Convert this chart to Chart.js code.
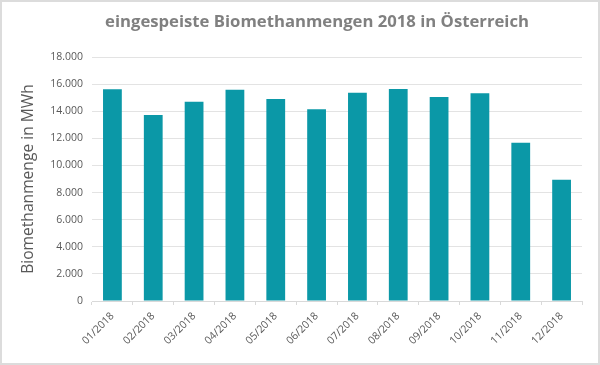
<!DOCTYPE html>
<html>
<head>
<meta charset="utf-8">
<script src="https://cdn.jsdelivr.net/npm/chart.js@4"></script>
<style>
  html, body { margin: 0; padding: 0; background: #fff; }
  #wrap {
    position: relative;
    width: 600px;
    height: 365px;
    box-sizing: border-box;
    border: 2px solid #dcdcdc;
    overflow: hidden;
  }
  #chart { position: absolute; left: -2px; top: -2px; }
</style>
</head>
<body>
<div id="wrap"><canvas id="chart" width="600" height="365"></canvas></div>
<script>
// Monate (x-Achse)
const months = [
  "01/2018", "02/2018", "03/2018", "04/2018", "05/2018", "06/2018",
  "07/2018", "08/2018", "09/2018", "10/2018", "11/2018", "12/2018",
];
// eingespeiste Mengen in MWh
const biomethanMWh = [
  15620, 13720, 14700, 15580, 14900, 14140,
  15370, 15650, 15050, 15320, 11680, 8950,
];
// y-Achse
const yMin = 0;
const yMax = 18000;
const yStep = 2000;

const chartTitle = "eingespeiste Biomethanmengen 2018 in Österreich";
const yAxisTitle = "Biomethanmenge in MWh";

// Tausenderpunkt (18.000)
function formatDE(v) {
  return String(v).replace(/\B(?=(\d{3})+(?!\d))/g, ".");
}

// Titel etwas nach rechts schieben (wie im Original)
const titleShift = {
  id: "titleShift",
  afterLayout(chart) {
    if (chart.titleBlock) {
      chart.titleBlock.left += 26;
      chart.titleBlock.right += 26;
    }
  },
};

const ctx = document.getElementById("chart");
new Chart(ctx, {
  type: "bar",
  data: {
    labels: months,
    datasets: [
      {
        label: "Biomethan",
        data: biomethanMWh,
        backgroundColor: "#0b98a7",
        borderWidth: 0,
        categoryPercentage: 1,
        barPercentage: 0.46,
      },
    ],
  },
  plugins: [titleShift],
  options: {
    responsive: false,
    animation: false,
    layout: { padding: { left: 0, right: 18, top: 0, bottom: 0 } },
    plugins: {
      legend: { display: false },
      tooltip: { enabled: false },
      title: {
        display: true,
        text: chartTitle,
        color: "#808080",
        font: { family: "'Open Sans', sans-serif", size: 16.7, weight: "bold", lineHeight: 1.2 },
        padding: { top: 12, bottom: 25 },
      },
    },
    scales: {
      x: {
        grid: {
          display: true,
          drawOnChartArea: false,
          drawTicks: true,
          tickLength: 4,
          color: "#d9d9d9",
        },
        border: { color: "#d9d9d9" },
        ticks: {
          color: "#595959",
          font: { family: "'Open Sans', sans-serif", size: 10.5 },
          minRotation: 45,
          maxRotation: 45,
          padding: 5,
        },
        afterFit(scale) {
          scale.height = 64;
        },
      },
      y: {
        min: yMin,
        max: yMax,
        grid: { color: "#e3e3e3", drawTicks: false },
        border: { display: false },
        ticks: {
          stepSize: yStep,
          color: "#595959",
          padding: 9,
          font: { family: "'Open Sans', sans-serif", size: 10.5 },
          callback: (v) => formatDE(v),
        },
        title: {
          display: true,
          text: yAxisTitle,
          color: "#595959",
          font: { family: "'Open Sans', sans-serif", size: 15.6, lineHeight: 1.2 },
          padding: { top: 19, bottom: 0 },
        },
        afterFit(scale) {
          scale.width = 92;
        },
      },
    },
  },
});
</script>
</body>
</html>
